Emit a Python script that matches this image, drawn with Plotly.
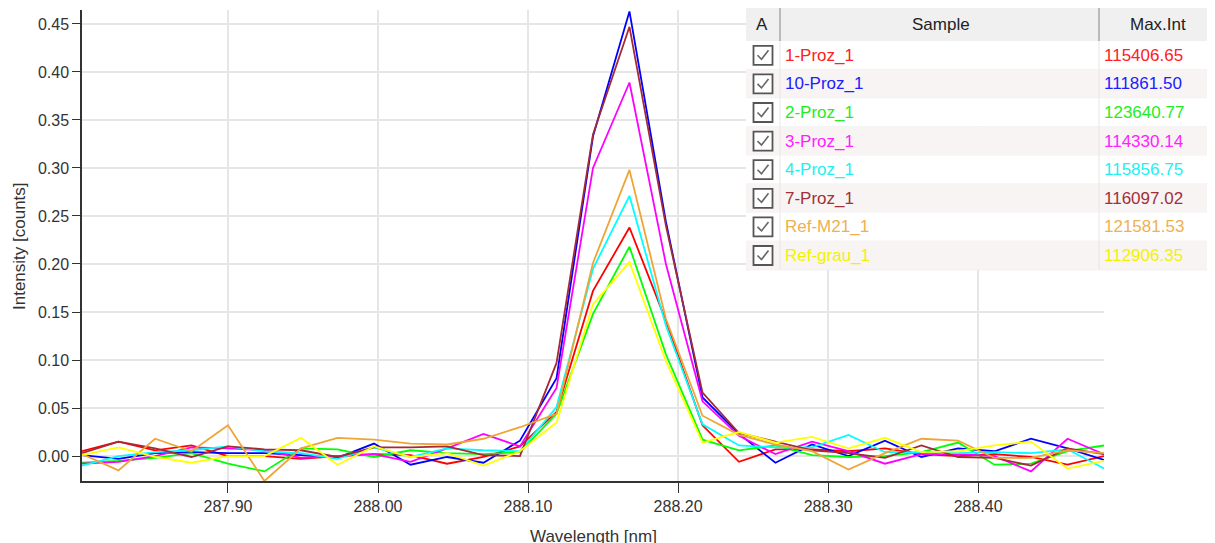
import plotly.graph_objects as go

# ---------------- data ----------------
wavelength = [287.8027, 287.8270, 287.8514, 287.8757, 287.9000, 287.9243, 287.9487,
              287.9730, 287.9973, 288.0217, 288.0460, 288.0703, 288.0946, 288.1190,
              288.1433, 288.1676, 288.1919, 288.2163, 288.2406, 288.2649, 288.2893,
              288.3136, 288.3379, 288.3622, 288.3866, 288.4109, 288.4352, 288.4596,
              288.4839]

proz1 = [0.005, 0.015, 0.006, 0.011, 0.000, 0.000, -0.003, 0.000, 0.002, 0.001,
         -0.008, -0.001, 0.010, 0.046, 0.172, 0.238, 0.141, 0.032, -0.006, 0.007,
         0.007, 0.005, 0.008, 0.002, 0.000, 0.002, -0.001, -0.009, 0.000]
proz10 = [0.001, -0.003, 0.003, 0.004, 0.003, 0.003, 0.001, -0.002, 0.013, -0.009,
          -0.001, -0.007, 0.016, 0.081, 0.333, 0.463, 0.244, 0.061, 0.023, -0.007,
          0.012, 0.000, 0.016, -0.001, 0.008, 0.005, 0.018, 0.008, -0.004]
proz2 = [-0.007, -0.005, -0.002, 0.003, -0.008, -0.016, 0.008, 0.007, -0.001, 0.006,
         0.003, 0.002, 0.004, 0.044, 0.148, 0.218, 0.106, 0.017, 0.006, 0.011,
         0.001, -0.001, 0.000, 0.004, 0.014, -0.009, -0.008, 0.005, 0.011]
proz3 = [-0.008, -0.006, 0.000, 0.009, 0.008, 0.006, -0.002, 0.000, 0.002, -0.006,
         0.008, 0.023, 0.010, 0.071, 0.300, 0.389, 0.200, 0.057, 0.021, 0.002,
         0.015, 0.005, -0.008, 0.002, 0.002, 0.000, -0.016, 0.018, 0.002]
proz4 = [-0.010, 0.000, 0.004, 0.006, 0.010, 0.005, 0.003, -0.003, 0.009, -0.001,
         0.008, 0.006, 0.005, 0.051, 0.195, 0.271, 0.136, 0.033, 0.011, 0.009,
         0.009, 0.022, 0.004, 0.004, 0.003, 0.004, 0.003, 0.007, -0.013]
proz7 = [0.003, 0.015, 0.008, -0.001, 0.010, 0.007, 0.006, -0.001, 0.009, 0.009,
         0.010, 0.001, 0.000, 0.097, 0.335, 0.447, 0.240, 0.066, 0.024, 0.015,
         0.006, 0.003, -0.002, 0.011, -0.001, -0.002, -0.010, 0.008, 0.002]
ref_m21 = [0.002, -0.015, 0.018, 0.005, 0.032, -0.026, 0.008, 0.019, 0.017, 0.013,
           0.012, 0.018, 0.030, 0.044, 0.201, 0.298, 0.143, 0.042, 0.022, 0.012,
           0.005, -0.014, 0.003, 0.018, 0.016, -0.002, -0.002, 0.006, 0.003]
ref_grau = [0.001, 0.009, -0.001, -0.007, 0.000, 0.000, 0.019, -0.009, 0.010, -0.001,
            0.003, -0.010, 0.005, 0.035, 0.158, 0.202, 0.099, 0.014, 0.025, 0.014,
            0.020, 0.008, 0.019, 0.004, 0.005, 0.011, 0.015, -0.013, -0.005]

sample_names = ["1-Proz_1", "10-Proz_1", "2-Proz_1", "3-Proz_1",
                "4-Proz_1", "7-Proz_1", "Ref-M21_1", "Ref-grau_1"]
max_int = ["115406.65", "111861.50", "123640.77", "114330.14",
           "115856.75", "116097.02", "121581.53", "112906.35"]
series = [proz1, proz10, proz2, proz3, proz4, proz7, ref_m21, ref_grau]
colors = ["#FF0000", "#0000FF", "#00FF00", "#FF00FF",
          "#00FFFF", "#A52A35", "#EFA535", "#FFFF00"]
text_colors = ["#FF2020", "#2020FF", "#22EE22", "#FF22FF",
               "#22F0F0", "#A0303A", "#EFB050", "#F2F200"]

x_ticks = [287.90, 288.00, 288.10, 288.20, 288.30, 288.40]
y_ticks = [0.00, 0.05, 0.10, 0.15, 0.20, 0.25, 0.30, 0.35, 0.40, 0.45]

# ---------------- geometry (page pixels; page body has an 8px margin) ----------------
OFF = 8
W_FIG, H_FIG = 1215 - OFF, 543 - OFF
L, R, T, B = 82, 1104, 10, 481          # plot area in page pixels
PW, PH = R - L, B - T


def px(xp):
    return (xp - L) / PW


def py(yp):
    return (B - yp) / PH


fig = go.Figure()
for name, ys, c in zip(sample_names, series, colors):
    fig.add_trace(go.Scatter(x=wavelength, y=ys, mode="lines", name=name,
                             line=dict(color=c, width=1.8), showlegend=False))

axis_font = dict(family="Liberation Sans, Arial, sans-serif", size=16, color="#333333")

fig.update_layout(
    width=W_FIG, height=H_FIG,
    margin=dict(l=L - OFF, r=(1215 - OFF) - (R - OFF), t=T - OFF, b=(543 - OFF) - (B - OFF)),
    paper_bgcolor="white", plot_bgcolor="white",
    font=axis_font,
    xaxis=dict(range=[wavelength[0], wavelength[-1]], tickvals=x_ticks,
               tickformat=".2f", ticks="outside", ticklen=10, tickcolor="#333333",
               showline=True, linecolor="#333333", linewidth=1.5,
               showgrid=True, gridcolor="#e6e6e6", gridwidth=1.5, zeroline=False,
               tickfont=axis_font),
    yaxis=dict(range=[-0.026, 0.4645], tickvals=y_ticks, tickformat=".2f",
               ticks="outside", ticklen=8, tickcolor="#333333",
               showline=True, linecolor="#333333", linewidth=1.5,
               showgrid=True, gridcolor="#e6e6e6", gridwidth=1.5, zeroline=False,
               tickfont=axis_font),
)

shapes = []
annotations = []

title_font = dict(family="Liberation Sans, Arial, sans-serif", size=17, color="#333333")
annotations.append(dict(text="Wavelength [nm]", x=px(593), y=py(536), xref="paper", yref="paper",
                        xanchor="center", yanchor="middle", showarrow=False, font=title_font))
annotations.append(dict(text="Intensity [counts]", x=px(19), y=py(246), xref="paper", yref="paper",
                        xanchor="center", yanchor="middle", showarrow=False, textangle=-90,
                        font=title_font))

# ---------------- table overlay ----------------
TX0, TX1 = 746, 1215
C1, C2 = 780, 1099
HY0, HY1 = 8, 41
ROW_H = 28.6

shapes.append(dict(type="rect", xref="paper", yref="paper", layer="above",
                   x0=px(TX0), x1=px(TX1), y0=py(HY1), y1=py(HY0),
                   fillcolor="#f0f0f0", line=dict(width=0)))
shapes.append(dict(type="line", xref="paper", yref="paper", layer="above",
                   x0=px(TX0), x1=px(TX1), y0=py(7), y1=py(7),
                   line=dict(color="#c4c4c4", width=2)))
for cx in (C1, C2):
    shapes.append(dict(type="line", xref="paper", yref="paper", layer="above",
                       x0=px(cx), x1=px(cx), y0=py(HY1), y1=py(HY0),
                       line=dict(color="#a8a8a8", width=1.5)))

hdr_font = dict(family="Liberation Sans, Arial, sans-serif", size=17, color="#222222")
for label, cx in (("A", 762), ("Sample", 941), ("Max.Int", 1158)):
    annotations.append(dict(text=label, x=px(cx), y=py((HY0 + HY1) / 2), xref="paper", yref="paper",
                            xanchor="center", yanchor="middle", showarrow=False, font=hdr_font))

for i, (name, mi, tc) in enumerate(zip(sample_names, max_int, text_colors)):
    y0 = HY1 + i * ROW_H
    y1 = y0 + ROW_H
    yc = (y0 + y1) / 2
    fill = "#ffffff" if i % 2 == 0 else "#f8f4f3"
    shapes.append(dict(type="rect", xref="paper", yref="paper", layer="above",
                       x0=px(TX0), x1=px(TX1), y0=py(y1), y1=py(y0),
                       fillcolor=fill, line=dict(width=0)))
    shapes.append(dict(type="line", xref="paper", yref="paper", layer="above",
                       x0=px(TX0), x1=px(TX1), y0=py(y1), y1=py(y1),
                       line=dict(color="#efefef", width=1)))
    for cx in (C1, C2):
        shapes.append(dict(type="line", xref="paper", yref="paper", layer="above",
                           x0=px(cx), x1=px(cx), y0=py(y1), y1=py(y0),
                           line=dict(color="#e6e6e6", width=1)))
    shapes.append(dict(type="rect", xref="paper", yref="paper", layer="above",
                       x0=px(753.5), x1=px(772.5), y0=py(yc + 9.5), y1=py(yc - 9.5),
                       fillcolor="white", line=dict(color="#555555", width=1.8)))
    path = "M {:.5f},{:.5f} L {:.5f},{:.5f} L {:.5f},{:.5f}".format(
        px(757.5), py(yc), px(761.5), py(yc + 4), px(768.5), py(yc - 5))
    shapes.append(dict(type="path", xref="paper", yref="paper", layer="above", path=path,
                       line=dict(color="#666666", width=1.6)))
    cell_font = dict(family="Liberation Sans, Arial, sans-serif", size=17, color=tc)
    annotations.append(dict(text=name, x=px(783), y=py(yc), xref="paper", yref="paper",
                            xanchor="left", yanchor="middle", showarrow=False, font=cell_font))
    annotations.append(dict(text=mi, x=px(1102), y=py(yc), xref="paper", yref="paper",
                            xanchor="left", yanchor="middle", showarrow=False, font=cell_font))

fig.update_layout(shapes=shapes, annotations=annotations)
fig.write_html("out.html")
